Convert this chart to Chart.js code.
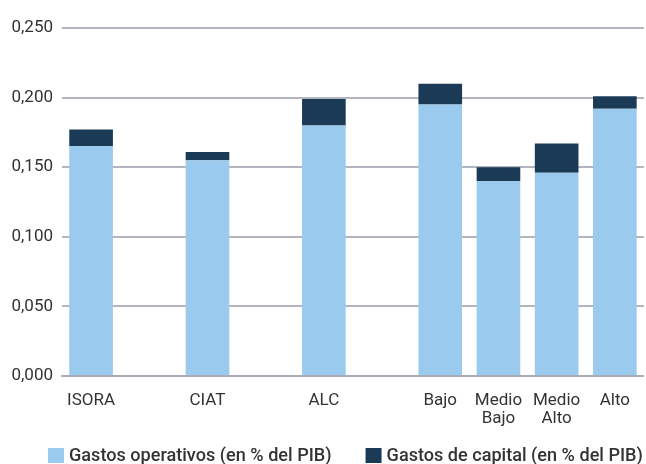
<!DOCTYPE html>
<html>
<head>
<meta charset="utf-8">
<script src="https://cdn.jsdelivr.net/npm/chart.js@4/dist/chart.umd.min.js"></script>
<style>
  html, body { margin: 0; padding: 0; background: #ffffff; }
  #wrap { width: 646px; height: 464px; position: relative; }
</style>
</head>
<body>
<div id="wrap"><canvas id="c" width="646" height="464"></canvas></div>
<script>
const categories = ['ISORA', '', 'CIAT', '', 'ALC', '', 'Bajo', ['Medio', 'Bajo'], ['Medio', 'Alto'], 'Alto'];
const gastosOperativos = [0.165, null, 0.155, null, 0.180, null, 0.195, 0.140, 0.146, 0.192];
const gastosCapital    = [0.012, null, 0.006, null, 0.019, null, 0.015, 0.010, 0.021, 0.009];
const yTicks = [0, 0.05, 0.10, 0.15, 0.20, 0.25];
const seriesNames = ['Gastos operativos (en % del PIB)', 'Gastos de capital (en % del PIB)'];

const fontFamily = 'Roboto, "Liberation Sans", sans-serif';

// Legend row drawn from the datasets' labels and colours.
const rowLegend = {
  id: 'rowLegend',
  afterDraw(chart) {
    const ctx = chart.ctx;
    const font = '500 18.1px ' + fontFamily;
    const startX = 48, centerY = 455, box = 16, boxH = 15, gapText = 5, gapItem = 34;
    ctx.save();
    ctx.font = font;
    ctx.textBaseline = 'middle';
    ctx.textAlign = 'left';
    let x = startX;
    chart.data.datasets.forEach((ds) => {
      ctx.fillStyle = ds.backgroundColor;
      ctx.fillRect(x, Math.round(centerY - boxH / 2), box, boxH);
      x += box + gapText;
      ctx.fillStyle = '#333333';
      ctx.fillText(ds.label, x, centerY + 1);
      x += ctx.measureText(ds.label).width + gapItem;
    });
    ctx.restore();
  }
};

new Chart(document.getElementById('c'), {
  type: 'bar',
  data: {
    labels: categories,
    datasets: [
      { label: seriesNames[0], data: gastosOperativos, backgroundColor: '#9BCAEF', borderWidth: 0 },
      { label: seriesNames[1], data: gastosCapital, backgroundColor: '#1B3A56', borderWidth: 0 }
    ]
  },
  plugins: [rowLegend],
  options: {
    responsive: false,
    animation: false,
    devicePixelRatio: 1,
    layout: { padding: { top: 28, right: 0, left: 0, bottom: 32 } },
    datasets: { bar: { barPercentage: 0.75, categoryPercentage: 1.0 } },
    plugins: {
      tooltip: { enabled: false },
      legend: { display: false }
    },
    scales: {
      x: {
        stacked: true,
        grid: { display: false, drawTicks: false },
        border: { display: true, color: '#A9ACB6', width: 2 },
        afterFit: (s) => { s.height = 56; },
        ticks: {
          color: '#333333',
          padding: 16,
          maxRotation: 0,
          autoSkip: false,
          font: { family: fontFamily, size: 17, lineHeight: 1.06 }
        }
      },
      y: {
        stacked: true,
        min: 0,
        max: 0.25,
        afterBuildTicks: (s) => { s.ticks = yTicks.map(v => ({ value: v })); },
        afterFit: (s) => { s.width = 62; },
        grid: { color: '#B3B6C0', lineWidth: 2, drawTicks: false },
        border: { display: false },
        ticks: {
          color: '#333333',
          padding: 9,
          font: { family: fontFamily, size: 17 },
          callback: (v) => Number(v).toFixed(3).replace('.', ',')
        }
      }
    }
  }
});
</script>
</body>
</html>
